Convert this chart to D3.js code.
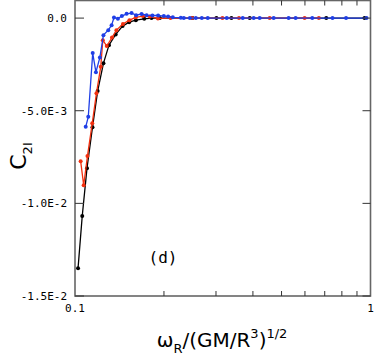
<!DOCTYPE html>
<html>
<head>
<meta charset="utf-8">
<script src="https://cdn.jsdelivr.net/npm/d3@7"></script>
<style>
  body { margin: 0; background: #fff; }
  svg { display: block; }
</style>
</head>
<body>
<div id="chart"></div>
<script>
// black series
const blackX = [0.1024, 0.1058, 0.1098, 0.1146, 0.1193, 0.1248, 0.1303, 0.1373, 0.1449, 0.1525,
  0.1607, 0.1715, 0.1815, 0.1937, 0.2498, 0.3010, 0.3383, 0.3902, 0.7085, 0.9543];
const blackY = [-0.0135, -0.01068, -0.0081, -0.00589, -0.00394, -0.00244, -0.00146, -0.00088, -0.00043, -0.00022,
  -0.00011, -0.00004, 0, 0, 0, 0, 0, 0, 0, 0];

// red series
const redX = [0.1045, 0.1070, 0.1102, 0.1144, 0.1182, 0.1222, 0.1242, 0.1281, 0.1334, 0.1381,
  0.1453, 0.1528, 0.1607, 0.1697, 0.1793, 0.1908, 0.2105, 0.2490, 0.3155, 0.3590, 0.4559, 0.5984, 0.6688];
const redY = [-0.00772, -0.00902, -0.00745, -0.00567, -0.00405, -0.00263, -0.00119, -0.00151, -0.00105, -0.00065,
  -0.00032, -0.00011, 0.00004, 0.00011, 0.00008, -0.00002, 0, 0, 0, 0, 0, 0, 0];

// blue series
const blueX = [0.1087, 0.1109, 0.1148, 0.1177, 0.1214, 0.1248, 0.1296, 0.1330, 0.1355, 0.1397,
  0.1441, 0.1495, 0.1554, 0.1610, 0.1680, 0.1747, 0.1828, 0.1911, 0.1998, 0.2066,
  0.2143, 0.2281, 0.2335, 0.2447, 0.2563, 0.2686, 0.2814, 0.3263, 0.3695, 0.4024,
  0.4217, 0.4702, 0.5284, 0.5580, 0.6353, 0.7438, 0.8265, 0.9694];
const blueY = [-0.00587, -0.00533, -0.00189, -0.00292, -0.00212, -0.00092, -0.00065, -0.00038, 0.00003, -0.00003,
  0.00011, 0.00023, 0.00027, 0.00016, 0.00022, 0.00016, 0.00014, 0.00014, 0.00011, 0.00008,
  0.00004, 0.00002, 0, 0, 0, 0, 0, 0, 0, 0,
  0, 0, 0, 0, 0, 0, 0, 0];

const yTicks = [0, -0.005, -0.01, -0.015];
const yTickLabels = ["0.0", "-5.0E-3", "-1.0E-2", "-1.5E-2"];
const xMinor = [0.2, 0.3, 0.4, 0.5, 0.6, 0.7, 0.8, 0.9];
const xLabelTicks = [0.1, 1];
const xTickLabels = ["0.1", "1"];

const series = [
  { xs: blackX, ys: blackY, color: "#000000" },
  { xs: redX, ys: redY, color: "#f2300f" },
  { xs: blueX, ys: blueY, color: "#1f3fe6" }
];

const width = 374, height = 356;
const plotL = 75, plotR = 370.5, plotT = 0.5, plotB = 296;

const x = d3.scaleLog().domain([0.1, 1]).range([plotL, plotR]);
const y = d3.scaleLinear().domain([-0.015, 0.00095]).range([plotB, plotT]);

const svg = d3.select("#chart")
  .append("svg")
  .attr("width", width)
  .attr("height", height);

const mono = "DejaVu Sans Mono, monospace";
const sans = "DejaVu Sans, sans-serif";

// data lines and markers
const line = d3.line().x(d => x(d[0])).y(d => y(d[1]));
series.forEach(s => {
  const pts = s.xs.map((v, i) => [v, s.ys[i]]);
  svg.append("path")
    .datum(pts)
    .attr("fill", "none")
    .attr("stroke", s.color)
    .attr("stroke-width", 1.3)
    .attr("d", line);
  svg.append("g")
    .selectAll("circle")
    .data(pts)
    .join("circle")
    .attr("cx", d => x(d[0]))
    .attr("cy", d => y(d[1]))
    .attr("r", 2)
    .attr("fill", s.color);
});

// frame
svg.append("rect")
  .attr("x", plotL)
  .attr("y", plotT)
  .attr("width", plotR - plotL)
  .attr("height", plotB - plotT)
  .attr("fill", "none")
  .attr("stroke", "#666")
  .attr("stroke-width", 1.6);

// y ticks (left and right, inward)
const yt = svg.append("g").attr("stroke", "#333").attr("stroke-width", 1);
yTicks.forEach(t => {
  yt.append("line").attr("x1", plotL).attr("x2", plotL + 9).attr("y1", y(t)).attr("y2", y(t));
  yt.append("line").attr("x1", plotR).attr("x2", plotR - 8).attr("y1", y(t)).attr("y2", y(t));
});

// x ticks (top and bottom, inward)
const xt = svg.append("g").attr("stroke", "#333").attr("stroke-width", 1);
xMinor.forEach(t => {
  xt.append("line").attr("x1", x(t)).attr("x2", x(t)).attr("y1", plotB).attr("y2", plotB - 5);
  xt.append("line").attr("x1", x(t)).attr("x2", x(t)).attr("y1", plotT).attr("y2", plotT + 5);
});

// tick labels
svg.append("g")
  .selectAll("text")
  .data(yTicks)
  .join("text")
  .attr("x", 67)
  .attr("y", d => y(d))
  .attr("dy", "0.35em")
  .attr("text-anchor", "end")
  .attr("font-family", mono)
  .attr("font-size", 11)
  .attr("fill", "#000")
  .text((d, i) => yTickLabels[i]);

svg.append("g")
  .selectAll("text")
  .data(xLabelTicks)
  .join("text")
  .attr("x", d => x(d))
  .attr("y", 312)
  .attr("text-anchor", "middle")
  .attr("font-family", mono)
  .attr("font-size", 11)
  .attr("fill", "#000")
  .text((d, i) => xTickLabels[i]);

// x title
const xTitle = svg.append("text")
  .attr("x", 222)
  .attr("y", 347)
  .attr("text-anchor", "middle")
  .attr("font-family", sans)
  .attr("font-size", 20)
  .attr("fill", "#000");
xTitle.append("tspan").text("ω");
xTitle.append("tspan").attr("font-size", 13).attr("dy", 6).text("R");
xTitle.append("tspan").attr("dy", -6).text("/(GM/R");
xTitle.append("tspan").attr("font-size", 13).attr("dy", -9).text("3");
xTitle.append("tspan").attr("dy", 9).text(")");
xTitle.append("tspan").attr("font-size", 13).attr("dy", -9).text("1/2");

// y title
const yTitle = svg.append("text")
  .attr("transform", "translate(26,156) rotate(-90)")
  .attr("text-anchor", "middle")
  .attr("font-family", sans)
  .attr("font-size", 22)
  .attr("fill", "#000");
yTitle.append("tspan").text("C");
yTitle.append("tspan").attr("font-size", 13).attr("dy", 6).text("2I");

// panel label
svg.append("text")
  .attr("x", 163)
  .attr("y", 263)
  .attr("text-anchor", "middle")
  .attr("font-family", mono)
  .attr("font-size", 16)
  .attr("fill", "#000")
  .text("(d)");
</script>
</body>
</html>
